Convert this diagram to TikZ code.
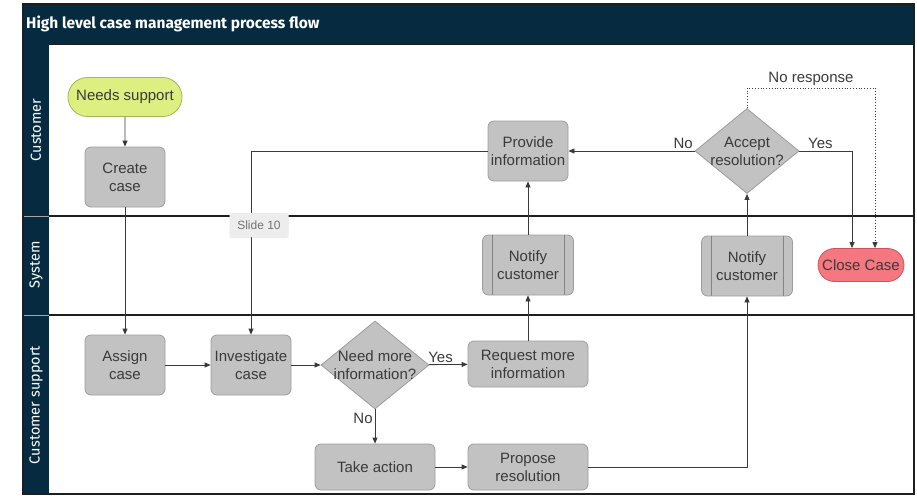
\documentclass[tikz,border=0pt]{standalone}
\usepackage{fontspec}
\setmainfont{Liberation Sans}
\newfontfamily\headfont{Fira Sans}
\usetikzlibrary{shapes.geometric,shapes.misc,arrows.meta,calc,shadows}

\definecolor{navy}{HTML}{062B40}
\definecolor{boxfill}{HTML}{C2C2C2}
\definecolor{boxline}{HTML}{9C9C9C}
\definecolor{barline}{HTML}{858585}
\definecolor{txt}{HTML}{3A3A3A}
\definecolor{startfill}{HTML}{DCEF80}
\definecolor{startline}{HTML}{A4B65A}
\definecolor{endfill}{HTML}{F57880}
\definecolor{endline}{HTML}{C8545C}
\definecolor{flowline}{HTML}{3A3A3A}
\definecolor{lanerule}{HTML}{1E1E1E}
\definecolor{tagfill}{HTML}{EDEDED}

\tikzset{
  nodefont/.style={font=\fontsize{15}{18}\selectfont, text=txt},
  proc/.style={rectangle, rounded corners=6pt, draw=boxline, fill=boxfill,
    line width=0.8pt, nodefont, align=center, inner sep=1pt,
    minimum width=80pt, minimum height=60pt},
  wideproc/.style={proc, minimum width=120pt, minimum height=46pt},
  pproc/.style={proc, minimum width=91pt},
  terminal/.style={rounded rectangle, line width=0.8pt, nodefont,
    inner sep=2pt},
  decision/.style={diamond, draw=boxline, fill=boxfill, line width=0.8pt,
    inner sep=0pt},
  dtext/.style={nodefont, align=center, inner sep=0pt},
  flow/.style={draw=flowline, line width=0.8pt,
    -{Triangle[length=6pt,width=5pt]}},
  edgelabel/.style={nodefont, inner sep=2pt},
  bar/.style={draw=barline, line width=0.8pt},
  lanename/.style={font=\headfont\fontsize{14.5}{16}\selectfont, text=white,
    rotate=90},
}

\begin{document}
\begin{tikzpicture}[x=1pt, y=-1pt]
\useasboundingbox (0,0) rectangle (917,495);

% swimlane frame, header and lane titles
\fill[navy] (23,4) rectangle (914,45);
\fill[navy] (23,45) rectangle (49,494);
\draw[gray!70, line width=0.6pt] (23,216) -- (49,216) (23,315) -- (49,315);
\draw[lanerule, line width=1.6pt] (49,216) -- (914,216);
\draw[lanerule, line width=1.6pt] (49,315) -- (914,315);
\draw[lanerule, line width=1.2pt] (23,4) rectangle (914,494);
\draw[lanerule, line width=1pt] (49,45) -- (914,45);

\node[anchor=west, text=white, font=\headfont\bfseries\fontsize{15.5}{17}\selectfont,
  inner sep=0pt] (title) at (26,24) {High level case management process flow};
\node[lanename] (lcust) at (36,130) {Customer};
\node[lanename] (lsys) at (36,265) {System};
\node[lanename] (lsup) at (36,405) {Customer support};

% process steps
\node[terminal, draw=startline, fill=startfill, minimum width=118pt,
  minimum height=39pt] (need) at (125,97) {Needs support};
\node[proc] (create) at (125,177) {Create\\case};
\node[proc] (assign) at (125,365) {Assign\\case};
\node[proc] (inv) at (251,365) {Investigate\\case};
\node[decision, minimum width=108pt, minimum height=88pt,
  label={[dtext]center:Need more\\information?}] (nmi) at (375,365) {};
\node[wideproc] (req) at (528,364) {Request more\\information};
\node[wideproc] (take) at (375,467) {Take action};
\node[wideproc] (prop) at (528,467) {Propose\\resolution};
\node[pproc] (n1) at (528,265) {Notify\\customer};
\node[pproc] (n2) at (747,266) {Notify\\customer};
\node[proc] (prov) at (528,151) {Provide\\information};
\node[decision, minimum width=104pt, minimum height=85pt,
  label={[dtext]center:Accept\\resolution?}] (acc) at (747,151) {};
\node[terminal, draw=endline, fill=endfill, minimum width=90pt,
  minimum height=33pt] (close) at (861,265) {Close Case};

% side bars of the predefined-process boxes
\foreach \n in {n1,n2} {
  \draw[bar] ([xshift=10pt]\n.north west) -- ([xshift=10pt]\n.south west);
  \draw[bar] ([xshift=-10pt]\n.north east) -- ([xshift=-10pt]\n.south east);
}

% connectors
\coordinate (nr) at (875,88);
\draw[flow] (need) -- (create);
\draw[flow] (create) -- (assign);
\draw[flow] (assign) -- (inv);
\draw[flow] (inv) -- (nmi);
\draw[flow] (nmi) -- node[edgelabel, above, pos=0.3] (lyes1) {Yes} (req);
\draw[flow] (nmi) -- node[edgelabel, left, pos=0.25] (lno1) {No} (take);
\draw[flow] (take) -- (prop);
\draw[flow] (req) -- (n1);
\draw[flow] (n1) -- (prov);
\draw[flow] (prop) -| (n2);
\draw[flow] (n2) -- (acc);
\draw[flow] (acc) -- node[edgelabel, above, pos=0.09] (lno2) {No} (prov);
\draw[flow] (acc.east) -| node[edgelabel, above, pos=0.2] (lyes2) {Yes}
  ([xshift=-9pt]close.north);
\draw[flow, dotted] (acc.north) |- node[edgelabel, above, pos=0.75] (lnr)
  {No response} (nr) -- ([xshift=14pt]close.north);
\draw[flow] (prov.west) -| (inv.north);

% slide tag over the lane boundary
\node[fill=tagfill, rounded corners=2pt, drop shadow={opacity=0.15,
  shadow xshift=0pt, shadow yshift=-1pt}, text=gray!90!black,
  font=\fontsize{12}{14}\selectfont, minimum width=59pt, minimum height=24pt,
  inner sep=1pt] (tag) at (259,225) {Slide 10};
\end{tikzpicture}
\end{document}
